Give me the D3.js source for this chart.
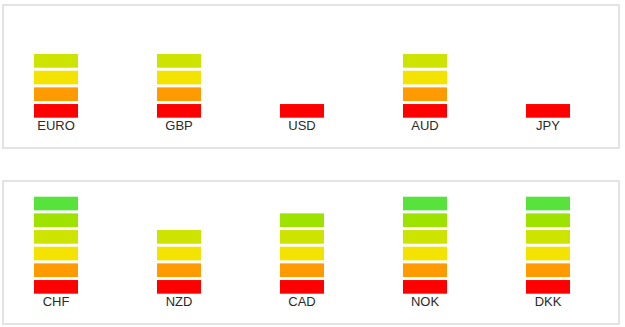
<!DOCTYPE html>
<html>
<head>
<meta charset="utf-8">
<script src="https://cdn.jsdelivr.net/npm/d3@7"></script>
<style>
  body { margin: 0; background: #fff; }
  svg { display: block; font-family: "Liberation Sans", Arial, sans-serif; }
</style>
</head>
<body>
<div id="chart"></div>
<script>
// currency strength levels, two rows of five
const rowOneCurrencies = ['EURO', 'GBP', 'USD', 'AUD', 'JPY'];
const rowOneLevels = [4, 4, 1, 4, 1];
const rowTwoCurrencies = ['CHF', 'NZD', 'CAD', 'NOK', 'DKK'];
const rowTwoLevels = [6, 4, 5, 6, 6];
const levelColors = ['#ff0000', '#ff9a00', '#f4e300', '#cde300', '#9ee300', '#58e33c'];
const maxLevel = 6;

const width = 625;
const height = 327;
const panels = [
  { top: 5, names: rowOneCurrencies, levels: rowOneLevels },
  { top: 181, names: rowTwoCurrencies, levels: rowTwoLevels },
];
const panelLeft = 3;
const panelWidth = 616;
const panelHeight = 143;

const svg = d3.select('#chart').append('svg')
  .attr('width', width)
  .attr('height', height);

const xScale = d3.scaleBand()
  .domain(d3.range(5))
  .range([-5.5, 609.5]);

// segment slots, bottom (level 0) to top
const yScale = d3.scaleBand()
  .domain(d3.range(maxLevel))
  .range([114.2, 14.2])
  .paddingInner(0.18)
  .paddingOuter(0.09);

const barWidth = 44;

panels.forEach((p) => {
  const g = svg.append('g')
    .attr('transform', `translate(0,${p.top})`);

  g.append('rect')
    .attr('x', panelLeft)
    .attr('y', 0)
    .attr('width', panelWidth)
    .attr('height', panelHeight)
    .attr('fill', '#fff')
    .attr('stroke', '#e3e3e3')
    .attr('stroke-width', 2);

  const cols = g.selectAll('g.col')
    .data(p.names.map((name, i) => ({ name, level: p.levels[i], i })))
    .join('g')
    .attr('class', 'col')
    .attr('transform', (d) => `translate(${xScale(d.i) + xScale.bandwidth() / 2},0)`);

  cols.selectAll('rect.seg')
    .data((d) => d3.range(d.level))
    .join('rect')
    .attr('class', 'seg')
    .attr('x', -barWidth / 2)
    .attr('y', (k) => yScale(k))
    .attr('width', barWidth)
    .attr('height', yScale.bandwidth())
    .attr('fill', (k) => levelColors[k]);

  cols.append('text')
    .attr('x', 0)
    .attr('y', 125)
    .attr('text-anchor', 'middle')
    .attr('font-size', '13px')
    .attr('fill', '#2a2a2a')
    .text((d) => d.name);
});
</script>
</body>
</html>
